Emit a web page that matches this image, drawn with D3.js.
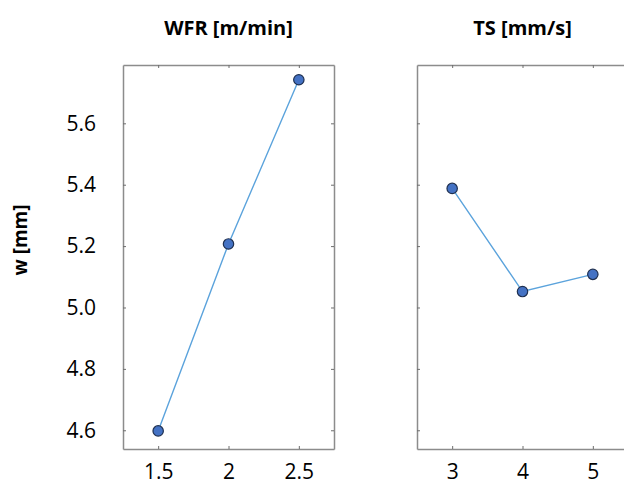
<!DOCTYPE html>
<html>
<head>
<meta charset="utf-8">
<script src="https://cdn.jsdelivr.net/npm/d3@7"></script>
<style>
  body { margin: 0; background: white; }
  svg { display: block; font-family: "Open Sans", "Noto Sans", sans-serif; }
</style>
</head>
<body>
<div id="chart"></div>
<script>
// main effects data
const wfr_levels = [1.5, 2, 2.5];
const wfr_means = [4.598, 5.207, 5.742];
const ts_levels = [3, 4, 5];
const ts_means = [5.388, 5.052, 5.108];
const y_ticks = [4.6, 4.8, 5.0, 5.2, 5.4, 5.6];
const panel_titles = ["WFR [m/min]", "TS [mm/s]"];
const y_title = "w [mm]";

const width = 624, height = 486;
const plot_top = 65, plot_bottom = 449, pw = 211;

const svg = d3.select("#chart").append("svg")
  .attr("width", width)
  .attr("height", height);

svg.append("rect").attr("width", "100%").attr("height", "100%").attr("fill", "white");

const y = d3.scaleLinear().domain([4.539, 5.79]).range([plot_bottom, plot_top]);

const panels = [
  {left: 123, domain: [1.25, 2.75], xs: wfr_levels, ys: wfr_means, title: panel_titles[0], ticks: wfr_levels, ylabels: true},
  {left: 417, domain: [2.5, 5.5], xs: ts_levels, ys: ts_means, title: panel_titles[1], ticks: ts_levels, ylabels: false}
];

panels.forEach(p => {
  const x = d3.scaleLinear().domain(p.domain).range([p.left, p.left + pw]);
  const g = svg.append("g");

  // frame + inward ticks on every side
  g.append("g")
    .attr("transform", "translate(0," + plot_bottom + ")")
    .call(d3.axisBottom(x).tickValues(p.ticks).tickFormat(d3.format("")).tickSizeInner(-3).tickSizeOuter(0).tickPadding(15));
  g.append("g")
    .attr("transform", "translate(0," + plot_top + ")")
    .call(d3.axisTop(x).tickValues(p.ticks).tickFormat("").tickSizeInner(-3).tickSizeOuter(0));
  g.append("g")
    .attr("transform", "translate(" + p.left + ",0)")
    .call(d3.axisLeft(y).tickValues(y_ticks).tickFormat(p.ylabels ? d3.format(".1f") : "").tickSizeInner(-3).tickSizeOuter(0).tickPadding(27));
  g.append("g")
    .attr("transform", "translate(" + (p.left + pw) + ",0)")
    .call(d3.axisRight(y).tickValues(y_ticks).tickFormat("").tickSizeInner(-3).tickSizeOuter(0));

  g.selectAll(".domain").attr("stroke", "#8c8c8c").attr("stroke-width", 1.5);
  g.selectAll(".tick line").attr("stroke", "#6e6e6e").attr("stroke-width", 1);
  g.selectAll(".tick text")
    .attr("font-family", "'Open Sans', 'Noto Sans', sans-serif")
    .attr("font-size", 21)
    .attr("fill", "#000");

  // title
  svg.append("text")
    .attr("x", p.left + pw / 2)
    .attr("y", 35)
    .attr("text-anchor", "middle")
    .attr("font-weight", "bold")
    .attr("font-size", 20)
    .text(p.title);

  const pts = p.xs.map((d, i) => [d, p.ys[i]]);

  g.append("path")
    .datum(pts)
    .attr("fill", "none")
    .attr("stroke", "#5ba3dc")
    .attr("stroke-width", 1.4)
    .attr("d", d3.line().x(d => x(d[0])).y(d => y(d[1])));

  g.selectAll("circle")
    .data(pts)
    .enter()
    .append("circle")
    .attr("cx", d => x(d[0]))
    .attr("cy", d => y(d[1]))
    .attr("r", 5.2)
    .attr("fill", "#4472c4")
    .attr("stroke", "#1f3050")
    .attr("stroke-width", 1.2);
});

svg.append("text")
  .attr("transform", "translate(27,240) rotate(-90)")
  .attr("text-anchor", "middle")
  .attr("font-weight", "bold")
  .attr("font-size", 19)
  .text(y_title);
</script>
</body>
</html>
